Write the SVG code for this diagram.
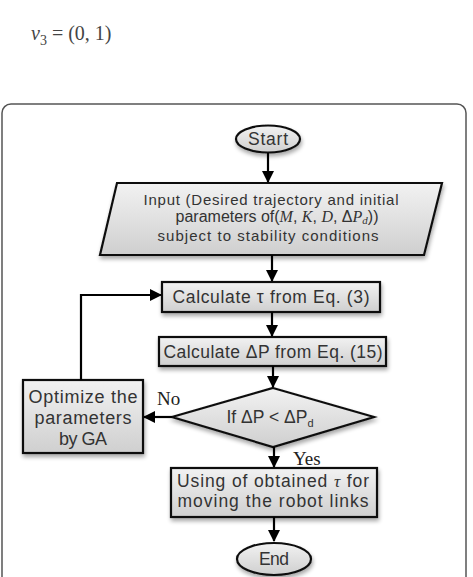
<svg xmlns="http://www.w3.org/2000/svg" width="473" height="577" viewBox="0 0 473 577">
<defs>
<linearGradient id="g" x1="0" y1="0" x2="0" y2="1">
<stop offset="0" stop-color="#f2f2f2"/>
<stop offset="1" stop-color="#cfcfcf"/>
</linearGradient>
<filter id="sh" x="-10%" y="-10%" width="130%" height="140%">
<feGaussianBlur in="SourceAlpha" stdDeviation="2"/>
<feOffset dx="1" dy="3" result="b"/>
<feComponentTransfer><feFuncA type="linear" slope="0.35"/></feComponentTransfer>
<feMerge><feMergeNode/><feMergeNode in="SourceGraphic"/></feMerge>
</filter>
<marker id="ah" markerWidth="12" markerHeight="12" refX="11" refY="6" orient="auto" markerUnits="userSpaceOnUse">
<path d="M0,0 L12,6 L0,12 Z" fill="#000"/>
</marker>
</defs>
<style>
.n{fill:url(#g);stroke:#111;stroke-width:2.2;filter:url(#sh)}
.t{font-family:"Liberation Sans",Arial,sans-serif;font-size:17.5px;fill:#333;text-anchor:middle}
.ts{font-family:"Liberation Sans",Arial,sans-serif;font-size:15px;fill:#333;text-anchor:middle}
.m{font-family:"Liberation Serif",serif;font-style:italic}
.sub{font-size:11px}
.c{fill:none;stroke:#000;stroke-width:2.2}
.l{font-family:"Liberation Serif",serif;font-size:19px;fill:#222}
</style>
<text x="31" y="40" font-family="Liberation Serif,serif" font-size="20" fill="#444"><tspan font-style="italic">ν</tspan><tspan font-size="14" dy="5">3</tspan><tspan dy="-5"> = (0, 1)</tspan></text>
<rect x="2" y="104" width="464" height="490" rx="9" fill="none" stroke="#555" stroke-width="1.5"/>
<g id="start">
<ellipse class="n" cx="268" cy="139" rx="32" ry="13.5"/>
<text class="t" x="268" y="145" textLength="40" lengthAdjust="spacing">Start</text>
</g>
<g id="input">
<polygon class="n" points="117,183 442,183 424,255 100,255"/>
<text class="ts" x="271" y="205" textLength="255" lengthAdjust="spacing">Input (Desired trajectory and initial</text>
<text class="ts" x="277" y="222" font-size="16" style="font-size:16px">parameters of(<tspan class="m">M</tspan>, <tspan class="m">K</tspan>, <tspan class="m">D</tspan>, Δ<tspan class="m">P</tspan><tspan class="m sub" dy="2">d</tspan><tspan dy="-2">))</tspan></text>
<text class="ts" x="268" y="241" textLength="221" lengthAdjust="spacing">subject to stability conditions</text>
</g>
<g id="calctau">
<rect class="n" x="162" y="282" width="218" height="30"/>
<text class="t" x="271" y="303" textLength="197" lengthAdjust="spacing">Calculate τ from Eq. (3)</text>
</g>
<g id="calcdp">
<rect class="n" x="159" y="337" width="227" height="29"/>
<text class="t" x="273" y="358" textLength="219" lengthAdjust="spacing">Calculate ΔP from Eq. (15)</text>
</g>
<g id="decision">
<polygon class="n" points="273,388 374,417 273,447 172,417"/>
<text class="t" x="270" y="423">If ΔP &lt; ΔP<tspan class="sub" dy="4">d</tspan></text>
</g>
<g id="optimize">
<rect class="n" x="23" y="380" width="120" height="73"/>
<text class="t" x="83" y="403" textLength="109" lengthAdjust="spacing" style="font-size:18px">Optimize the</text>
<text class="t" x="83" y="424" textLength="97" lengthAdjust="spacing" style="font-size:18px">parameters</text>
<text class="t" x="83" y="445" textLength="48" lengthAdjust="spacing" style="font-size:18px">by GA</text>
</g>
<g id="using">
<rect class="n" x="171" y="468" width="206" height="49"/>
<text class="t" x="273" y="487" textLength="192" lengthAdjust="spacing">Using of obtained <tspan class="m">τ</tspan> for</text>
<text class="t" x="273" y="507" textLength="191" lengthAdjust="spacing">moving the robot links</text>
</g>
<g id="end">
<ellipse class="n" cx="274" cy="559" rx="37" ry="16"/>
<text class="t" x="274" y="565" textLength="30" lengthAdjust="spacing">End</text>
</g>
<g id="connectors">
<line class="c" x1="268" y1="153" x2="268" y2="182" marker-end="url(#ah)"/>
<line class="c" x1="272" y1="255" x2="272" y2="281" marker-end="url(#ah)"/>
<line class="c" x1="272" y1="312" x2="272" y2="336" marker-end="url(#ah)"/>
<line class="c" x1="273" y1="366" x2="273" y2="387" marker-end="url(#ah)"/>
<line class="c" x1="172" y1="417" x2="144" y2="417" marker-end="url(#ah)"/>
<polyline class="c" points="81,380 81,295 161,295" marker-end="url(#ah)"/>
<line class="c" x1="274" y1="447" x2="274" y2="467" marker-end="url(#ah)"/>
<line class="c" x1="274" y1="517" x2="274" y2="541" marker-end="url(#ah)"/>
<text class="l" x="157" y="405">No</text>
<text class="l" x="293" y="465">Yes</text>
</g>
</svg>
